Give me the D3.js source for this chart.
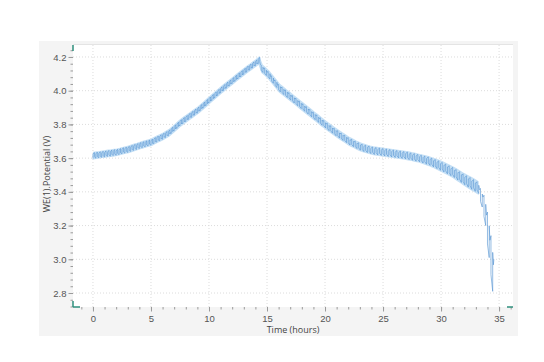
<!DOCTYPE html>
<meta charset="utf-8">
<style>
body { margin: 0; background: #fff; }
svg { font-family: "Open Sans", "Noto Sans", sans-serif; }
.tick text { fill: #555; font-size: 9.5px; }
.tick line { stroke: #9a9a9a; }
.grid line { stroke: #dcdcdc; stroke-dasharray: 1,2; }
.label { fill: #444; font-size: 9px; }
</style>
<body>
<script src="https://d3js.org/d3.v7.min.js"></script>
<script>

// pulsed charge: one pulse every 0.25 h from t = 0
var chargeStart = 0, chargeStep = 0.25;
// voltage at rest before each pulse, and at the end of each pulse (V)
var chargeRest = [3.597, 3.600, 3.602, 3.605, 3.607, 3.610, 3.612, 3.615, 3.617, 3.621,
  3.626, 3.630, 3.634, 3.640, 3.646, 3.651, 3.657, 3.662, 3.667, 3.672,
  3.677, 3.686, 3.695, 3.703, 3.712, 3.722, 3.732, 3.747, 3.762, 3.777,
  3.792, 3.805, 3.817, 3.830, 3.842, 3.855, 3.867, 3.882, 3.897, 3.912,
  3.927, 3.942, 3.957, 3.972, 3.987, 4.001, 4.015, 4.028, 4.042, 4.056,
  4.070, 4.083, 4.097, 4.110, 4.122, 4.135, 4.147, 4.160];
var chargePeak = [3.633, 3.636, 3.638, 3.641, 3.643, 3.646, 3.648, 3.651, 3.653, 3.657,
  3.662, 3.666, 3.670, 3.676, 3.682, 3.687, 3.693, 3.698, 3.703, 3.708,
  3.713, 3.722, 3.731, 3.739, 3.748, 3.758, 3.768, 3.783, 3.798, 3.813,
  3.828, 3.841, 3.853, 3.866, 3.878, 3.891, 3.903, 3.918, 3.933, 3.948,
  3.963, 3.978, 3.993, 4.008, 4.023, 4.037, 4.051, 4.064, 4.078, 4.092,
  4.106, 4.119, 4.133, 4.146, 4.158, 4.171, 4.183, 4.198];

// pulsed discharge: one pulse every 0.3 h from t = 14.5
var dischargeStart = 14.5, dischargeStep = 0.3;
var dischargeRest = [4.152, 4.134, 4.114, 4.088, 4.063, 4.037, 4.021, 4.004, 3.988, 3.971,
  3.955, 3.938, 3.922, 3.905, 3.889, 3.872, 3.856, 3.839, 3.823, 3.807,
  3.792, 3.777, 3.763, 3.749, 3.736, 3.722, 3.712, 3.701, 3.691, 3.683,
  3.677, 3.671, 3.666, 3.663, 3.660, 3.657, 3.654, 3.651, 3.648, 3.645,
  3.642, 3.639, 3.636, 3.631, 3.627, 3.622, 3.617, 3.612, 3.607, 3.600,
  3.592, 3.584, 3.575, 3.565, 3.555, 3.545, 3.533, 3.520, 3.507, 3.496,
  3.485, 3.473, 3.460, 3.420, 3.380, 3.280, 3.140];
var dischargeLoad = [4.108, 4.090, 4.070, 4.044, 4.019, 3.993, 3.977, 3.960, 3.944, 3.927,
  3.911, 3.894, 3.878, 3.861, 3.845, 3.828, 3.812, 3.795, 3.779, 3.763,
  3.748, 3.733, 3.719, 3.705, 3.692, 3.678, 3.668, 3.657, 3.647, 3.639,
  3.633, 3.627, 3.622, 3.619, 3.616, 3.613, 3.610, 3.607, 3.604, 3.601,
  3.598, 3.595, 3.591, 3.587, 3.582, 3.578, 3.571, 3.564, 3.557, 3.548,
  3.538, 3.528, 3.518, 3.507, 3.496, 3.485, 3.470, 3.456, 3.442, 3.428,
  3.415, 3.403, 3.390, 3.310, 3.200, 3.010, 2.810];
var finalRest = 3.0;

var xTicks = [0, 5, 10, 15, 20, 25, 30, 35];
var yTicks = [2.8, 3.0, 3.2, 3.4, 3.6, 3.8, 4.0, 4.2];

// plot box inside the 544x362 page
var margin = {top: 45, right: 31, bottom: 55, left: 73},
    width = 544 - margin.left - margin.right,
    height = 362 - margin.top - margin.bottom;

var x = d3.scaleLinear().domain([-1.72, 36.2]).range([0, width]);
var y = d3.scaleLinear().domain([2.717, 4.271]).range([height, 0]);

var svg = d3.select("body").append("svg")
    .attr("width", 544)
    .attr("height", 362);

// grey panel behind the plot
svg.append("rect")
    .attr("x", 39).attr("y", 41)
    .attr("width", 479).attr("height", 295)
    .attr("fill", "#f4f4f4");

var g = svg.append("g")
    .attr("transform", "translate(" + margin.left + "," + margin.top + ")");

g.append("rect")
    .attr("width", width).attr("height", height)
    .attr("fill", "#fff");
g.append("line")
    .attr("x1", 0).attr("x2", width).attr("y1", -0.5).attr("y2", -0.5)
    .attr("stroke", "#e4e4e4");

// dotted grid
g.append("g").attr("class", "grid")
  .selectAll("line").data(xTicks).join("line")
    .attr("x1", function(d) { return x(d); }).attr("x2", function(d) { return x(d); })
    .attr("y1", 0).attr("y2", height);
g.append("g").attr("class", "grid")
  .selectAll("line").data(yTicks).join("line")
    .attr("y1", function(d) { return y(d); }).attr("y2", function(d) { return y(d); })
    .attr("x1", 0).attr("x2", width);

// minor ticks
g.append("g")
    .attr("transform", "translate(0," + height + ")")
    .call(d3.axisBottom(x).tickValues(d3.range(-1, 37, 1)).tickSize(2.5).tickFormat(""))
    .call(function(a) { a.select(".domain").remove(); });
g.append("g")
    .call(d3.axisLeft(y).tickValues(d3.range(2.72, 4.27, 0.04)).tickSize(2.5).tickFormat(""))
    .call(function(a) { a.select(".domain").remove(); });

// major ticks
g.append("g")
    .attr("transform", "translate(0," + height + ")")
    .call(d3.axisBottom(x).tickValues(xTicks).tickSize(4.5).tickPadding(4))
    .call(function(a) { a.select(".domain").remove(); });
g.append("g")
    .call(d3.axisLeft(y).tickValues(yTicks).tickSize(4.5).tickPadding(2).tickFormat(d3.format(".1f")))
    .call(function(a) { a.select(".domain").remove(); });

// build the pulse trace
var ir = 0.7;
var pts = [], band = [];
chargeRest.forEach(function(r, i) {
  var t0 = chargeStart + i * chargeStep, p = chargePeak[i], a = p - r;
  var nxt = i + 1 < chargeRest.length ? chargeRest[i + 1] : dischargeRest[0];
  var tOff = t0 + 0.5 * chargeStep;
  pts.push([t0, r], [t0, r + ir * a], [tOff, p], [tOff, p - ir * a],
           [t0 + 0.7 * chargeStep, nxt + 0.1 * a]);
  band.push([t0 + 0.25 * chargeStep, r, p]);
});
dischargeRest.forEach(function(r, i) {
  var t0 = dischargeStart + i * dischargeStep, l = dischargeLoad[i], a = r - l;
  var nxt = i + 1 < dischargeRest.length ? dischargeRest[i + 1] : finalRest;
  var tOff = t0 + 0.5 * dischargeStep;
  pts.push([t0, r], [t0, r - ir * a], [tOff, l], [tOff, l + ir * a],
           [t0 + 0.7 * dischargeStep, nxt - 0.1 * a]);
  if (a < 0.08) band.push([t0 + 0.25 * dischargeStep, l, r]);
});
pts.push([dischargeStart + dischargeRest.length * dischargeStep - 0.05, finalRest]);

var area = d3.area()
    .x(function(d) { return x(d[0]); })
    .y0(function(d) { return y(d[1]); })
    .y1(function(d) { return y(d[2]); });

g.append("path")
    .datum(band)
    .attr("fill", "#c4dff5")
    .attr("stroke", "#c4dff5")
    .attr("stroke-width", 1.6)
    .attr("d", area);

g.append("path")
    .datum(pts)
    .attr("fill", "none")
    .attr("stroke", "#5b98d3")
    .attr("stroke-width", 0.65)
    .attr("stroke-linejoin", "round")
    .attr("d", d3.line()
      .x(function(d) { return x(d[0]); })
      .y(function(d) { return y(d[1]); }));

// teal corner handles
var teal = "#2e8f7c";
var corners = [[0, 0, 0, 6], [0, height - 6, 0, height], [0, height, 7, height], [width - 6, height, width, height]];
g.selectAll(".corner").data(corners).join("line")
    .attr("x1", function(d) { return d[0]; }).attr("y1", function(d) { return d[1]; })
    .attr("x2", function(d) { return d[2]; }).attr("y2", function(d) { return d[3]; })
    .attr("stroke", teal).attr("stroke-width", 1.5);

// axis titles
svg.append("text")
    .attr("class", "label")
    .attr("x", margin.left + width / 2)
    .attr("y", 333)
    .attr("text-anchor", "middle")
    .text("Time (hours)");
svg.append("text")
    .attr("class", "label")
    .attr("transform", "translate(50," + (margin.top + height / 2 - 2) + ") rotate(-90)")
    .attr("text-anchor", "middle")
    .text("WE(1).Potential (V)");

</script>
</body>
